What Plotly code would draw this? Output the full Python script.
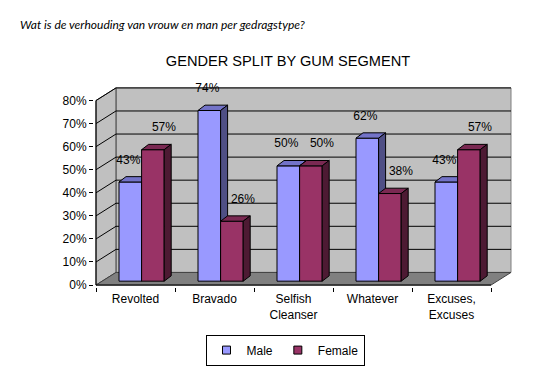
import plotly.graph_objects as go

# ---------------- data ----------------
categories = ["Revolted", "Bravado", "Selfish<br>Cleanser", "Whatever", "Excuses,<br>Excuses"]
male = [43, 74, 50, 62, 43]
female = [57, 26, 50, 38, 57]
y_tick_values = [0, 10, 20, 30, 40, 50, 60, 70, 80]
y_tick_labels = ["0%", "10%", "20%", "30%", "40%", "50%", "60%", "70%", "80%"]
series_names = ["Male", "Female"]

# ---------------- styling / geometry ----------------
FONT = "Liberation Sans, Arial, sans-serif"
PX_X = 79.0      # pixels per category
PX_Y = 2.375     # pixels per percent
Y_MAX = 80
N = len(categories)

WALL_DX, WALL_DY = 20 / PX_X, 13 / PX_Y      # depth of the 3D box
FRONT_DX, FRONT_DY = 6 / PX_X, 4 / PX_Y      # bar front face offset from floor front
BAR_DX, BAR_DY = 7 / PX_X, 5.5 / PX_Y        # bar depth
BAR_W = 22.6 / PX_X
BAR_START = 17 / PX_X
LABEL_DY = 22 / PX_Y

COL = {
    "Male": dict(front="#9999FF", top="#7373C8", side="#4F4F85"),
    "Female": dict(front="#993366", top="#7A2952", side="#4D1A33"),
}

# plot area in pixels
W, H = 533, 370
ORIG_X, ORIG_Y = 88, 283
PL, PR, PT, PB = 86, 505, 77, 285
x_range = [(PL - ORIG_X) / PX_X, (PR - ORIG_X) / PX_X]
y_range = [(ORIG_Y - PB) / PX_Y, (ORIG_Y - PT) / PX_Y]


def path(pts):
    return "M " + " L ".join(f"{x},{y}" for x, y in pts) + " Z"


shapes = []
# back wall
shapes.append(dict(type="path", xref="x", yref="y", layer="below",
                   path=path([(WALL_DX, WALL_DY), (N + WALL_DX, WALL_DY),
                              (N + WALL_DX, Y_MAX + WALL_DY), (WALL_DX, Y_MAX + WALL_DY)]),
                   fillcolor="#C0C0C0", line=dict(color="#808080", width=1)))
# left side wall
shapes.append(dict(type="path", xref="x", yref="y", layer="below",
                   path=path([(0, 0), (WALL_DX, WALL_DY), (WALL_DX, Y_MAX + WALL_DY), (0, Y_MAX)]),
                   fillcolor="#C0C0C0", line=dict(color="#404040", width=1)))
# floor
shapes.append(dict(type="path", xref="x", yref="y", layer="below",
                   path=path([(0, 0), (N, 0), (N + WALL_DX, WALL_DY), (WALL_DX, WALL_DY)]),
                   fillcolor="#808080", line=dict(color="#404040", width=1)))
# gridlines (side wall diagonal + back wall horizontal)
for g in y_tick_values[1:]:
    shapes.append(dict(type="path", xref="x", yref="y", layer="below",
                       path=f"M 0,{g} L {WALL_DX},{g + WALL_DY} L {N + WALL_DX},{g + WALL_DY}",
                       line=dict(color="#000000", width=1)))
# front axis lines
shapes.append(dict(type="line", xref="x", yref="y", layer="below",
                   x0=0, y0=0, x1=0, y1=Y_MAX, line=dict(color="#000000", width=1)))
shapes.append(dict(type="line", xref="x", yref="y", layer="below",
                   x0=0, y0=0, x1=N, y1=0, line=dict(color="#000000", width=1)))

fig = go.Figure()

label_shift = {"Male": -2 / PX_X, "Female": 11 / PX_X}

for s_idx, (name, values) in enumerate(zip(series_names, [male, female])):
    xa = "x" if s_idx == 0 else "x2"
    ya = "y" if s_idx == 0 else "y2"
    c = COL[name]
    lefts = [i + BAR_START + FRONT_DX + s_idx * BAR_W for i in range(N)]
    centers = [l + BAR_W / 2 for l in lefts]
    fig.add_trace(go.Bar(
        x=centers, y=values, base=[FRONT_DY] * N, width=BAR_W,
        marker=dict(color=c["front"], line=dict(color="#000000", width=1)),
        xaxis=xa, yaxis=ya, showlegend=False, name=name,
    ))
    for l, v in zip(lefts, values):
        r = l + BAR_W
        top = FRONT_DY + v
        # top face
        tx = [l, r, r + BAR_DX, l + BAR_DX, l]
        ty = [top, top, top + BAR_DY, top + BAR_DY, top]
        fig.add_trace(go.Scatter(x=tx, y=ty, fill="toself", mode="lines",
                                 fillcolor=c["top"], line=dict(color="#000000", width=1),
                                 xaxis=xa, yaxis=ya, showlegend=False, hoverinfo="skip"))
        # side face
        sx = [r, r + BAR_DX, r + BAR_DX, r, r]
        sy = [FRONT_DY, FRONT_DY + BAR_DY, top + BAR_DY, top, FRONT_DY]
        fig.add_trace(go.Scatter(x=sx, y=sy, fill="toself", mode="lines",
                                 fillcolor=c["side"], line=dict(color="#000000", width=1),
                                 xaxis=xa, yaxis=ya, showlegend=False, hoverinfo="skip"))
    # data labels
    fig.add_trace(go.Scatter(
        x=[cx + label_shift[name] for cx in centers],
        y=[FRONT_DY + v + LABEL_DY for v in values],
        text=[f"{v}%" for v in values], mode="text",
        textfont=dict(family=FONT, size=12, color="#000000"),
        xaxis="x2", yaxis="y2", showlegend=False, cliponaxis=False, hoverinfo="skip"))

# legend entries
for name in series_names:
    fig.add_trace(go.Scatter(
        x=[None], y=[None], mode="markers", name=name,
        marker=dict(symbol="square", size=8, color=COL[name]["front"],
                    line=dict(color="#000000", width=1)),
        xaxis="x2", yaxis="y2", showlegend=True))

fig.update_layout(
    width=W, height=H,
    margin=dict(l=PL, r=W - PR, t=PT, b=H - PB, pad=0),
    paper_bgcolor="#FFFFFF", plot_bgcolor="#FFFFFF",
    font=dict(family=FONT, size=12, color="#000000"),
    shapes=shapes,
    title=dict(text="GENDER SPLIT BY GUM SEGMENT", x=280 / W, xanchor="center",
               y=1 - 53 / H, yanchor="middle", xref="container", yref="container",
               font=dict(family=FONT, size=14.6, color="#000000")),
    xaxis=dict(range=x_range, showgrid=False, zeroline=False, showline=False,
               tickmode="array", tickvals=[i + 0.5 for i in range(N)], ticktext=categories,
               ticks="", ticklabelstandoff=3,
               minor=dict(tickmode="array", tickvals=list(range(N + 1)), ticks="outside",
                          ticklen=4, tickcolor="#000000", showgrid=False),
               tickfont=dict(family=FONT, size=12)),
    yaxis=dict(range=y_range, showgrid=False, zeroline=False, showline=False,
               tickmode="array", tickvals=y_tick_values, ticktext=y_tick_labels,
               ticks="outside", ticklen=4, tickcolor="#000000",
               tickfont=dict(family=FONT, size=12)),
    xaxis2=dict(range=x_range, overlaying="x", visible=False),
    yaxis2=dict(range=y_range, overlaying="y", visible=False),
    showlegend=True,
    legend=dict(orientation="h", x=(277 - PL) / (PR - PL), xanchor="center",
                y=(PB - 334) / (PB - PT), yanchor="top",
                bordercolor="#000000", borderwidth=1, bgcolor="#FFFFFF",
                itemsizing="trace", itemwidth=30,
                font=dict(family=FONT, size=12)),
    annotations=[dict(text="<i>Wat is de verhouding van vrouw en man per gedragstype?</i>",
                      xref="paper", yref="paper",
                      x=(10 - PL) / (PR - PL), xanchor="left",
                      y=(PB - 15) / (PB - PT), yanchor="middle",
                      showarrow=False, font=dict(family="Lato, sans-serif", size=12, color="#000000"))],
)

fig.write_html("out.html")
